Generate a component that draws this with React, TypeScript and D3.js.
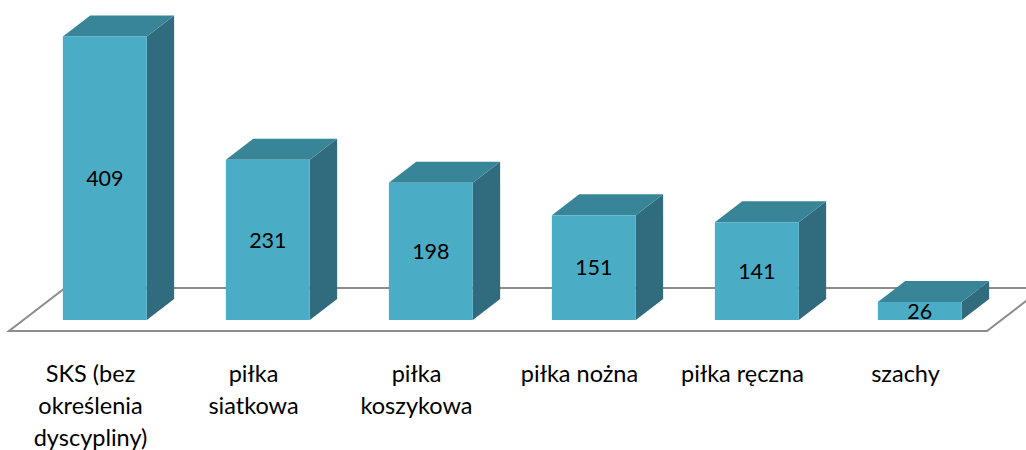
import React from "react";
import * as d3 from "d3";

const categories = [
  "SKS (bez|określenia|dyscypliny)",
  "piłka|siatkowa",
  "piłka|koszykowa",
  "piłka nożna",
  "piłka ręczna",
  "szachy",
];
const values = [409, 231, 198, 151, 141, 26];

const W = 1026;
const H = 450;
const floorFrontY = 331;
const floorLeft = 9;
const floorRight = 987;
const depthDX = 56;
const depthDY = -43;
const z0 = 0.256;
const z1 = 0.744;
const barFrac = 0.515;

const FRONT = "#4BACC6";
const TOP = "#398598";
const SIDE = "#316C7E";
const FLOOR = "#8C8C8C";

export default function App() {
  const x = d3.scaleBand<string>().domain(categories).range([floorLeft, floorRight]).padding(0);
  const step = x.step();
  const bw = step * barFrac;
  const baseY = floorFrontY + z0 * depthDY; // bar front bottom
  const y = d3.scaleLinear().domain([0, 450]).range([baseY, baseY - 312]);
  const bdx = (z1 - z0) * depthDX;
  const bdy = (z1 - z0) * depthDY;

  const floorPath = d3.path();
  floorPath.moveTo(floorLeft, floorFrontY);
  floorPath.lineTo(floorRight, floorFrontY);
  floorPath.lineTo(floorRight + depthDX, floorFrontY + depthDY);
  floorPath.lineTo(floorLeft + depthDX, floorFrontY + depthDY);
  floorPath.closePath();

  return (
    <svg width={W} height={H} style={{ position: "absolute", left: 0, top: 0 }}>
      <rect width={W} height={H} fill="#fff" />
      <path d={floorPath.toString()} fill="none" stroke={FLOOR} strokeWidth={2} />
      {categories.map((c, i) => {
        const x0 = (x(c) as number) + (step - bw) / 2 + z0 * depthDX;
        const x1 = x0 + bw;
        const yt = y(values[i]);
        const yb = baseY;
        const top = `M${x0},${yt}L${x1},${yt}L${x1 + bdx},${yt + bdy}L${x0 + bdx},${yt + bdy}Z`;
        const side = `M${x1},${yt}L${x1 + bdx},${yt + bdy}L${x1 + bdx},${yb + bdy}L${x1},${yb}Z`;
        return (
          <g key={c}>
            <path d={side} fill={SIDE} />
            <path d={top} fill={TOP} />
            <rect x={x0} y={yt} width={bw} height={yb - yt} fill={FRONT} />
            <text
              x={(x0 + x1) / 2}
              y={(yt + yb) / 2}
              dy="0.36em"
              textAnchor="middle"
              fontFamily="Lato, 'Open Sans', sans-serif"
              fontSize={21.5}
              fill="#000"
            >
              {values[i]}
            </text>
          </g>
        );
      })}
      {categories.map((c) => {
        const cx = (x(c) as number) + step / 2;
        const lines = c.split("|");
        return (
          <text
            key={"l" + c}
            x={cx}
            y={382}
            textAnchor="middle"
            fontFamily="Lato, 'Open Sans', sans-serif"
            fontSize={23.5}
            fill="#000"
          >
            {lines.map((ln, j) => (
              <tspan key={j} x={cx} dy={j === 0 ? 0 : 32}>
                {ln}
              </tspan>
            ))}
          </text>
        );
      })}
    </svg>
  );
}
